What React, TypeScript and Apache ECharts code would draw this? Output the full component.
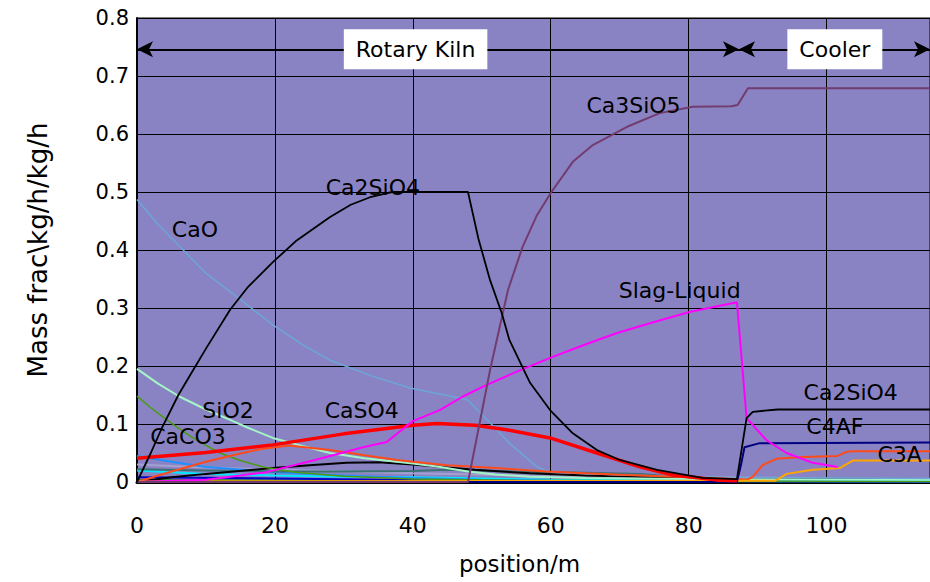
import React, { useEffect, useRef } from "react";
import * as echarts from "echarts";

// ---- data: [position m, mass fraction] ----
const ca2sio4: number[][] = [
  [0, 0], [2, 0.05], [3.6, 0.093], [6, 0.15], [8, 0.19], [10, 0.23], [13.5, 0.297], [16, 0.335],
  [19.7, 0.379], [23, 0.415], [28, 0.457], [31, 0.478], [33.8, 0.491], [37, 0.5], [48, 0.5],
  [49.5, 0.42], [51.2, 0.348], [52.9, 0.291], [54, 0.245], [57, 0.171], [59.9, 0.124], [63.2, 0.084],
  [66.7, 0.055], [70, 0.038], [75.4, 0.021], [82, 0.007], [87, 0.005], [88.4, 0.11], [89.3, 0.121],
  [92.9, 0.125], [115, 0.125],
];
const ca3sio5: number[][] = [
  [0, 0], [48, 0], [49.5, 0.09], [51.2, 0.193], [53.8, 0.331], [55.9, 0.405], [58, 0.46], [60.1, 0.5],
  [63.2, 0.552], [66.1, 0.581], [71, 0.612], [75.8, 0.636], [80.6, 0.647], [86.2, 0.648], [87.1, 0.65],
  [88.6, 0.679], [115, 0.679],
];
const slagLiquid: number[][] = [
  [0, 0], [10, 0.004], [18.8, 0.017], [25.8, 0.038], [32.8, 0.06], [36.2, 0.069], [40, 0.105],
  [43.9, 0.124], [47.2, 0.147], [50.1, 0.164], [55, 0.19], [59.9, 0.214], [65, 0.237], [69.6, 0.257],
  [75, 0.276], [80.1, 0.293], [87, 0.31], [88.4, 0.11], [91.3, 0.072], [94.2, 0.05], [98, 0.033],
  [101.6, 0.026],
];
const cao: number[][] = [
  [0, 0.487], [3, 0.445], [6.7, 0.4], [10, 0.36], [14.5, 0.319], [19.7, 0.271], [24, 0.237], [28, 0.21],
  [34, 0.183], [39.6, 0.162], [46.8, 0.145], [48, 0.141], [51.2, 0.102], [54, 0.067], [58, 0.026],
  [60, 0.017], [70, 0.012], [85, 0.008], [115, 0.006],
];
const caso4: number[][] = [
  [0, 0.041], [10, 0.051], [19.7, 0.064], [30, 0.083], [40, 0.098], [43.5, 0.101], [49, 0.098],
  [53.6, 0.09], [59.9, 0.076], [66.7, 0.05], [72.9, 0.026], [77.7, 0.012], [84.5, 0.003], [87, 0.002],
];
const c3a: number[][] = [
  [0, 0], [5, 0.018], [10, 0.035], [14.2, 0.047], [18, 0.057], [22, 0.063], [28, 0.055], [33, 0.046],
  [37.7, 0.038], [40, 0.035], [45, 0.029], [52, 0.024], [59.4, 0.018], [65, 0.015], [71, 0.012],
  [80, 0.008], [87, 0.005], [88.5, 0.004], [89.3, 0.009], [90.7, 0.029], [92.7, 0.04], [96.5, 0.043],
  [101.6, 0.045], [102.9, 0.052], [103.8, 0.053], [115, 0.053],
];
const orangePhase: number[][] = [
  [0, 0.001], [92.5, 0.002], [93.5, 0.009], [94.2, 0.014], [98, 0.021], [101.9, 0.024], [103.8, 0.037],
  [115, 0.037],
];
const c4af: number[][] = [
  [0, 0], [87, 0], [87.6, 0.03], [88.1, 0.06], [90.3, 0.067], [115, 0.068],
];
const sio2: number[][] = [
  [0, 0.195], [3, 0.17], [6.2, 0.147], [10, 0.125], [13.5, 0.107], [16, 0.094], [19.7, 0.076],
  [24, 0.062], [28, 0.05], [33, 0.041], [40, 0.032], [44, 0.026], [48, 0.018], [52, 0.013], [57, 0.009],
  [65, 0.007], [80, 0.005], [115, 0.004],
];
const caco3: number[][] = [
  [0, 0.148], [2, 0.128], [3.8, 0.112], [6, 0.093], [8, 0.077], [10, 0.063], [12, 0.05], [15, 0.037],
  [18.3, 0.026], [23, 0.017], [30, 0.01], [40, 0.005], [55, 0.003], [70, 0.002], [115, 0.001],
];
const minorBlack: number[][] = [
  [0, 0], [5, 0.008], [10, 0.014], [19.7, 0.024], [25, 0.029], [30.4, 0.033], [35, 0.034], [40, 0.03],
  [45, 0.025], [49, 0.021], [57, 0.015], [65, 0.011], [75, 0.008], [85, 0.006], [115, 0.005],
];
const minorTeal: number[][] = [
  [0, 0.022], [10, 0.02], [20, 0.018], [30, 0.018], [40, 0.019], [45, 0.021], [55, 0.018], [65, 0.016],
  [73, 0.014], [78, 0.009], [82, 0.006], [115, 0.005],
];
const minorBlue: number[][] = [
  [0, 0.045], [5, 0.035], [10, 0.026], [20, 0.017], [30, 0.011], [40, 0.007], [50, 0.004], [60, 0.002],
  [115, 0.001],
];
const minorCyan: number[][] = [
  [0, 0.02], [10, 0.014], [20, 0.011], [30, 0.009], [40, 0.008], [50, 0.006], [60, 0.004], [75, 0.003],
  [115, 0.002],
];
const minorNavy: number[][] = [[0, 0.008], [20, 0.006], [35, 0.004], [50, 0.002], [115, 0.001]];
const minorLavender: number[][] = [[0, 0.03], [10, 0.025], [25, 0.02], [40, 0.015], [60, 0.01], [115, 0.005]];
const minorGreen: number[][] = [[0, 0.003], [30, 0.002], [55, 0.002], [115, 0.001]];

// labels placed in data coordinates
const curveLabels: { name: string; at: number[] }[] = [
  { name: "Ca3SiO5", at: [72.0, 0.65] },
  { name: "Ca2SiO4", at: [34.2, 0.507] },
  { name: "CaO", at: [8.4, 0.436] },
  { name: "Slag-Liquid", at: [78.7, 0.331] },
  { name: "SiO2", at: [13.2, 0.124] },
  { name: "CaSO4", at: [32.6, 0.124] },
  { name: "CaCO3", at: [7.4, 0.078] },
  { name: "Ca2SiO4", at: [103.5, 0.155] },
  { name: "C4AF", at: [101.2, 0.095] },
  { name: "C3A", at: [110.6, 0.048] },
];
const zoneLabels: { name: string; at: number[] }[] = [
  { name: "Rotary Kiln", at: [40.4, 0.746] },
  { name: "Cooler", at: [101.2, 0.746] },
];
const zoneArrowY = 0.746;
const zoneBoundary = 87.3;
const xMax = 115;

const FONT = "DejaVu Sans";

function line(name: string, data: number[][], color: string, width = 1.5, z = 2) {
  return {
    type: "line",
    name,
    data,
    showSymbol: false,
    symbol: "none",
    z,
    lineStyle: { color, width },
    itemStyle: { color },
  };
}

export default function App() {
  const ref = useRef<HTMLDivElement>(null);
  useEffect(() => {
    if (!ref.current) return;
    const chart = echarts.init(ref.current, undefined, { renderer: "svg" });
    chart.setOption({
      animation: false,
      grid: {
        left: 137,
        right: 0,
        top: 18,
        bottom: 100,
        show: true,
        backgroundColor: "#8983C4",
        borderColor: "#000",
        borderWidth: 1,
      },
      xAxis: {
        type: "value",
        min: 0,
        max: xMax,
        interval: 20,
        name: "position/m",
        nameLocation: "middle",
        nameGap: 70,
        nameTextStyle: { fontFamily: FONT, fontSize: 23, color: "#000", padding: [0, 28, 0, 0] },
        axisLine: { show: true, lineStyle: { color: "#000", width: 3 } },
        axisTick: { show: false },
        axisLabel: { fontFamily: FONT, fontSize: 22, color: "#000", margin: 32, showMaxLabel: false },
        splitLine: { show: true, lineStyle: { color: "#000", width: 1 } },
      },
      yAxis: {
        type: "value",
        min: 0,
        max: 0.8,
        interval: 0.1,
        name: "Mass frac\\kg/h/kg/h",
        nameLocation: "middle",
        nameGap: 86,
        nameTextStyle: { fontFamily: FONT, fontSize: 26, color: "#000" },
        axisLine: { show: true, lineStyle: { color: "#000", width: 2 } },
        axisTick: { show: false },
        axisLabel: {
          fontFamily: FONT,
          fontSize: 21,
          color: "#000",
          margin: 8,
          formatter: (v: number) => (v === 0 ? "0" : v.toFixed(1)),
        },
        splitLine: { show: true, lineStyle: { color: "#000", width: 1 } },
      },
      series: [
        line("minor green", minorGreen, "#1E7A00", 2),
        line("minor navy", minorNavy, "#0000C8", 2),
        line("minor lavender", minorLavender, "#A4A0D0", 2),
        line("minor cyan", minorCyan, "#00E8FF", 2),
        line("minor blue", minorBlue, "#1E90FF", 2),
        line("minor teal", minorTeal, "#3A7272", 2),
        line("minor black", minorBlack, "#000000", 2),
        line("CaCO3", caco3, "#4C9A10", 1.5),
        line("SiO2", sio2, "#A4F4C8", 2),
        line("CaO", cao, "#6CA6D8", 1.5),
        line("C3A", c3a, "#FF4A1A", 2),
        line("orange phase", orangePhase, "#FFA500", 2),
        line("C4AF", c4af, "#000080", 2),
        line("CaSO4", caso4, "#FF0000", 3.5, 3),
        line("Slag-Liquid", slagLiquid, "#FF00FF", 2, 3),
        line("Ca3SiO5", ca3sio5, "#733C6E", 2, 3),
        line("Ca2SiO4", ca2sio4, "#000000", 1.8, 3),
        {
          type: "scatter",
          name: "curve labels",
          z: 5,
          symbolSize: 0,
          silent: true,
          itemStyle: { opacity: 1 },
          data: curveLabels.map((l) => ({ name: l.name, value: l.at })),
          label: {
            show: true,
            position: "inside",
            formatter: "{b}",
            fontFamily: FONT,
            fontSize: 22,
            color: "#000",
            opacity: 1,
          },
          markLine: {
            silent: true,
            symbol: ["arrow", "arrow"],
            symbolSize: [12, 16],
            precision: 3,
            lineStyle: { color: "#000", width: 2, type: "solid", opacity: 1 },
            itemStyle: { color: "#000", opacity: 1 },
            label: { show: false },
            data: [
              [{ coord: [0, zoneArrowY] }, { coord: [zoneBoundary, zoneArrowY] }],
              [{ coord: [zoneBoundary, zoneArrowY] }, { coord: [xMax, zoneArrowY] }],
            ],
          },
        },
        {
          type: "scatter",
          name: "zone labels",
          z: 10,
          symbolSize: 0,
          silent: true,
          itemStyle: { opacity: 1 },
          data: zoneLabels.map((l) => ({ name: l.name, value: l.at })),
          label: {
            show: true,
            position: "inside",
            formatter: "{b}",
            fontFamily: FONT,
            fontSize: 22,
            color: "#000",
            opacity: 1,
            backgroundColor: "#FFFFFF",
            padding: [9, 12],
          },
        },
      ],
    });
    return () => chart.dispose();
  }, []);
  return (
    <div
      ref={ref}
      style={{ position: "fixed", left: 0, top: 0, width: 930, height: 582, background: "#fff" }}
    />
  );
}
